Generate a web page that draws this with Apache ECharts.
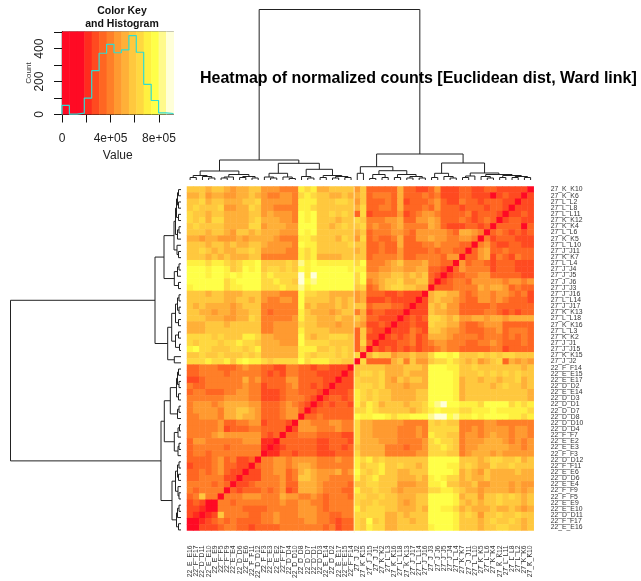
<!DOCTYPE html>
<html><head><meta charset="utf-8">
<style>html,body{margin:0;padding:0;background:#fff}#c{width:641px;height:581px;filter:blur(0.35px)}</style>
<script src="https://cdn.jsdelivr.net/npm/echarts@6/dist/echarts.min.js"></script>
</head><body><div id="c"></div>
<script>
const rowLabels=["27_K_K10","27_K_K6","27_L_L2","27_L_L8","27_L_L11","27_K_K12","27_K_K4","27_L_L6","27_K_K5","27_L_L10","27_J_J11","27_K_K7","27_L_L4","27_J_J4","27_J_J5","27_J_J6","27_J_J3","27_J_J16","27_L_L14","27_J_J17","27_K_K13","27_L_L18","27_K_K16","27_L_L3","27_K_K2","27_J_J1","27_J_J15","27_K_K15","27_J_J2","22_F_F14","22_E_E15","22_E_E17","22_D_D2","22_E_E14","22_D_D3","22_D_D1","22_D_D7","22_D_D8","22_D_D10","22_D_D4","22_F_F7","22_E_E2","22_E_E3","22_F_F3","22_D_D12","22_F_F11","22_E_E6","22_D_D6","22_E_E4","22_F_F9","22_F_F5","22_E_E9","22_E_E10","22_D_D11","22_F_F17","22_E_E16"];
const colLabels=["22_E_E16","22_F_F17","22_D_D11","22_E_E10","22_E_E9","22_F_F5","22_F_F9","22_E_E4","22_D_D6","22_E_E6","22_F_F11","22_D_D12","22_F_F3","22_E_E3","22_E_E2","22_F_F7","22_D_D4","22_D_D10","22_D_D8","22_D_D7","22_D_D1","22_D_D3","22_E_E14","22_D_D2","22_E_E17","22_E_E15","22_F_F14","27_J_J2","27_K_K15","27_J_J15","27_J_J1","27_K_K2","27_L_L3","27_K_K16","27_L_L18","27_K_K13","27_J_J17","27_L_L14","27_J_J16","27_J_J3","27_J_J6","27_J_J5","27_J_J4","27_L_L4","27_K_K7","27_J_J11","27_L_L10","27_K_K5","27_L_L6","27_K_K4","27_K_K12","27_L_L11","27_L_L8","27_L_L2","27_K_K6","27_K_K10"];

// colour-key levels: one character per cell, above the anti-diagonal (the matrix is symmetric)
const levelRows=[
"777677656677 555444 989 667777 5 7 33333 6 3322 35222 33223 3222220",
"667566556676 544554 898 776676 6 7 34443 6 3334 34222 33222 023220",
"778677666778 555554 999 777887 5 7 33343 6 2333 45322 43323 33220",
"787778556687 554444 998 777777 6 8 33443 6 3334 35333 23332 3320",
"877677666677 565554 a9a 778787 3 8 23333 5 2345 54333 34233 320",
"878688666678 666554 a9a 777677 8 7 44455 6 3355 65333 43234 30",
"787777666688 566655 aaa 776787 7 8 45445 6 4444 65322 23323 0",
"777677657767 666555 a9a 777777 6 7 34445 5 4355 55543 66540",
"665665556566 665444 998 777687 5 8 34334 6 3355 65544 5540",
"777677676677 655554 a99 777778 7 7 33433 6 3334 45444 330",
"778767667787 555544 989 777777 6 7 33433 5 3333 43443 30",
"777676766677 444444 989 666677 7 7 34444 5 3344 44355 0",
"99989987899a 777787 b9a 999999 8 a 44456 7 5556 44330",
"aaa9aa978a9a 788787 a9a aaaaa9 9 9 44556 6 5566 3320",
"aaa9aa9a9aaa 898888 c9c aaaaaa 8 a 55667 7 6767 320",
"aaaaaa89aaaa 889887 cab aaaaaa 8 a 45677 8 6677 30",
"9aaaaa899aaa 888988 b9a aaaaaa 7 8 34678 8 7766 0",
"777677666777 555444 a88 776666 5 6 33322 3 2220",
"777777667767 544554 a77 776767 5 6 22232 2 220",
"767666656777 444444 a67 666767 7 7 34443 3 20",
"776656656677 434444 976 665677 4 6 23322 2 0",
"777666556687 444445 977 666766 7 6 33222 0",
"666777677777 445555 877 666566 6 5 22320",
"666777777777 445555 977 776666 3 7 3220",
"888878777998 665555 a76 778887 3 7 220",
"878887889887 666555 a88 887777 3 8 30",
"9a8877788789 666666 999 778787 3 6 0",
"778778777878 666666 987 888787 8 0",
"888988979a99 878888 a89 998877 0",
"334443 334544 3322443 32332220",
"334444 344444 3232443 3322220",
"223444 444645 3333553 333220",
"433444 444544 2333453 32320",
"344333 445544 2223443 3320",
"444444 555544 2223444 320",
"455545 666655 3334543 20",
"455554 667765 3334553 0",
"445554 667665 3334550",
"444445 334455 233320",
"444445 233344 33330",
"444456 555555 3230",
"355444 444555 110",
"344444 344444 10",
"344344 444444 0",
"333345 342230",
"233345 33220",
"334345 3220",
"334444 220",
"444434 30",
"434444 0",
"347440",
"23200",
"2210",
"210",
"00",
"0"];
const levelKeys="0123456789abc";
const levelValues=[90000,214000,276000,337000,398000,460000,521000,582000,644000,705000,766000,828000,889000];
const levelBreaks=[0,184000,245000,306000,368000,429000,490000,552000,613000,674000,736000,797000,858000,920000];
const levelColors=["#FF0A24","#FF2C1E","#FF4A20","#FF6622","#FF7F28","#FF9A30","#FFB038","#FFC83E","#FFD840","#FFF040","#FFFF48","#FFFA8C","#FFFFD8"];

// histogram in the colour key
const histBreaks=[0,61000,123000,184000,245000,306000,368000,429000,490000,552000,613000,674000,736000,797000,858000,920000];
const histCounts=[55,2,8,100,266,372,426,375,392,479,378,183,85,10,6];

// dendrogram (same tree on both margins): [merge height, child, child]; 0 is a leaf
const dendroTree=[170.5,
 [20,
  [9,
   [4.5,[2.5,0,0],[3.5,0,[2,0,0]]],
   [5.5,[3,[2,0,0],0],[3.5,[2.5,0,0],[2,0,0]]]],
  [16.7,
   [6.7,[3,0,[2,0,0]],[3,0,[1.5,0,0]]],
   [10.7,[3.5,0,[2,0,0]],[4.5,[2.5,0,0],[3.5,[2,0,0],[2.5,0,0]]]]]],
 [26,
  [13.3,[6.7,0,0],[9.3,[5.5,[1.5,0,0],[2.5,0,0]],[5.5,[2.5,0,0],[3.5,[2,0,0],[2,0,0]]]]],
  [17,
   [6.7,[2.5,0,0],[3.5,0,[2,0,0]]],
   [7,[4,[2.5,0,0],0],[5.5,[3.5,0,[2,0,0]],[4.5,[2.5,0,0],[3.5,[2.5,0,0],[2.5,0,0]]]]]]]];
// faint seam between the two sample groups, in cell units
const seamLine=[[27,0,27,56]];

const n=rowLabels.length;
const level=[];
for(let r=0;r<n;r++)level.push(new Array(n));
levelRows.forEach((s,r)=>{
  const t=s.replace(/ /g,'');
  if(t.length!==n-r)throw new Error('row '+r+' has '+t.length+' expected '+(n-r));
  for(let c=0;c<t.length;c++){
    const v=levelValues[levelKeys.indexOf(t[c])];
    level[r][c]=v;level[n-1-c][n-1-r]=v;
  }
});
const heatData=[];
for(let r=0;r<n;r++)for(let c=0;c<n;c++)heatData.push([c,r,level[r][c]]);

const segsH=[],segsV=[];
let leaf=0;
function walk(node){
  if(node===0){return {p:0.5+leaf++,h:0};}
  const a=walk(node[1]),b=walk(node[2]),h=node[0];
  segsH.push([a.p,a.h,a.p,h],[a.p,h,b.p,h],[b.p,h,b.p,b.h]);
  segsV.push([a.h,a.p,h,a.p],[h,a.p,h,b.p],[h,b.p,b.h,b.p]);
  return {p:(a.p+b.p)/2,h};
}
walk(dendroTree);

const lineStyle={stroke:'#222',lineWidth:1};
const segRender=(p,api)=>{
  const a=api.coord([api.value(0),api.value(1)]),b=api.coord([api.value(2),api.value(3)]);
  return {type:'line',shape:{x1:a[0],y1:a[1],x2:b[0],y2:b[1]},style:lineStyle,silent:true};
};
const seamRender=(p,api)=>{
  const a=api.coord([api.value(0),api.value(1)]),b=api.coord([api.value(2),api.value(3)]);
  return {type:'line',shape:{x1:a[0],y1:a[1],x2:b[0],y2:b[1]},style:{stroke:'rgba(255,250,215,0.75)',lineWidth:1},silent:true};
};
const bandData=histBreaks.slice(0,-1).map((b,i)=>[b,histBreaks[i+1],i<3?0:i-2]);
const stepData=[[0,0]].concat(histCounts.map((v,i)=>[histBreaks[i],v]),[[920000,histCounts[14]]]);

const font='"Liberation Sans",Arial,sans-serif';
const hidden={show:false};
const chart=echarts.init(document.getElementById('c'),null,{renderer:'canvas'});
chart.setOption({
  animation:false,
  backgroundColor:'#fff',
  title:[
    {text:'Color Key\nand Histogram',left:117,top:0,textAlign:'center',textStyle:{fontFamily:font,fontSize:10.5,fontWeight:'bold',color:'#111',lineHeight:13}},
    {text:'Heatmap of normalized counts [Euclidean dist, Ward link]',left:195,top:66,textStyle:{fontFamily:font,fontSize:16,fontWeight:'bold',color:'#000'}}
  ],
  grid:[
    {left:187,top:186.5,width:346.7,height:346.5},
    {left:62,top:31.5,width:111.5,height:83,show:true,borderColor:'#444',borderWidth:0.6},
    {left:187,top:9,width:346.7,height:171},
    {left:10,top:186.5,width:171,height:346.5},
    {left:187,top:186.5,width:346.7,height:346.5}
  ],
  xAxis:[
    {gridIndex:0,type:'category',data:colLabels,position:'bottom',axisLine:hidden,axisTick:hidden,splitLine:hidden,
     axisLabel:{interval:0,rotate:90,margin:15,fontSize:6.8,color:'#333',fontFamily:font}},
    {gridIndex:1,type:'value',min:0,max:920000,position:'bottom',splitLine:hidden,
     axisLine:{show:true,onZero:false,lineStyle:{color:'#111'}},axisTick:{show:true,length:8,lineStyle:{color:'#111'},customValues:[0,200000,400000,600000,800000]},
     axisLabel:{customValues:[0,400000,800000],margin:18,fontSize:12,color:'#222',fontFamily:font,formatter:v=>v===0?'0':(v/100000)+'e+05'},
     name:'Value',nameLocation:'middle',nameGap:35,nameTextStyle:{fontSize:12,color:'#222',fontFamily:font}},
    {gridIndex:2,type:'value',min:0,max:56,show:false},
    {gridIndex:3,type:'value',min:0,max:171,inverse:true,show:false},
    {gridIndex:4,type:'value',min:0,max:56,show:false}
  ],
  yAxis:[
    {gridIndex:0,type:'category',data:rowLabels,inverse:true,position:'right',axisLine:hidden,axisTick:hidden,splitLine:hidden,
     axisLabel:{interval:0,margin:17,fontSize:6.8,color:'#333',fontFamily:font}},
    {gridIndex:1,type:'value',min:0,max:504,position:'left',splitLine:hidden,
     axisLine:{show:true,onZero:false,lineStyle:{color:'#111'}},axisTick:{show:true,length:8,lineStyle:{color:'#111'},customValues:[0,100,200,300,400,500]},
     axisLabel:{customValues:[0,200,400],rotate:90,margin:16,fontSize:12,color:'#222',fontFamily:font},
     name:'Count',nameLocation:'middle',nameGap:28,nameTextStyle:{fontSize:8,color:'#333',fontFamily:font}},
    {gridIndex:2,type:'value',min:0,max:171,show:false},
    {gridIndex:3,type:'value',min:0,max:56,show:false},
    {gridIndex:4,type:'value',min:0,max:56,show:false}
  ],
  visualMap:[{type:'piecewise',show:false,seriesIndex:0,dimension:2,
    pieces:levelColors.map((col,i)=>({gte:levelBreaks[i],lt:levelBreaks[i+1],color:col}))}],
  series:[
    {type:'heatmap',xAxisIndex:0,yAxisIndex:0,data:heatData,itemStyle:{borderWidth:0},silent:true},
    {type:'custom',xAxisIndex:1,yAxisIndex:1,data:bandData,silent:true,z:1,
     renderItem:(p,api)=>{
       const a=api.coord([api.value(0),504]),b=api.coord([api.value(1),0]);
       return {type:'rect',shape:{x:a[0],y:a[1],width:b[0]-a[0]+0.5,height:b[1]-a[1]},style:{fill:levelColors[api.value(2)]}};
     }},
    {type:'line',xAxisIndex:1,yAxisIndex:1,data:stepData,step:'end',symbol:'none',z:3,lineStyle:{color:'#30DCD0',width:1.2},silent:true},
    {type:'custom',xAxisIndex:2,yAxisIndex:2,data:segsH,renderItem:segRender,silent:true,clip:false},
    {type:'custom',xAxisIndex:3,yAxisIndex:3,data:segsV,renderItem:segRender,silent:true,clip:false},
    {type:'custom',xAxisIndex:4,yAxisIndex:4,data:seamLine,renderItem:seamRender,silent:true,clip:false,z:4}
  ]
});
</script></body></html>
